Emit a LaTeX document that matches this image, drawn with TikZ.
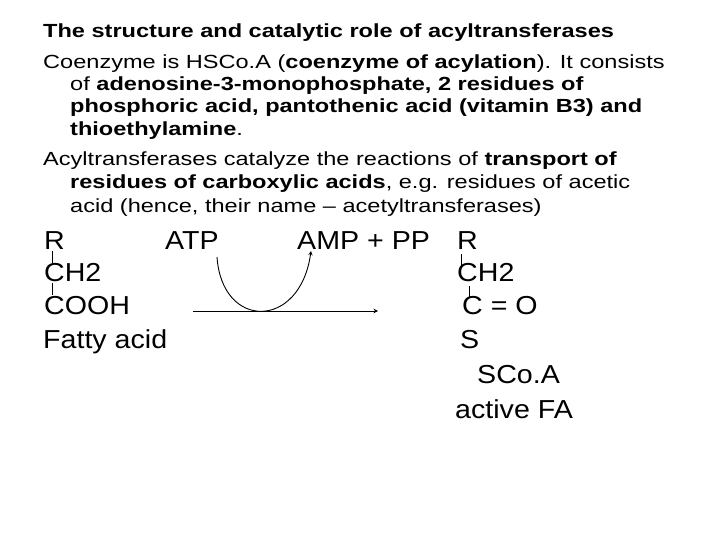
\documentclass[tikz,border=0pt]{standalone}
\usepackage{fontspec}
\usepackage{graphicx}
\setmainfont{Liberation Sans}
\newcommand{\bt}[1]{\scalebox{1.24}[1]{#1}}
\newcommand{\lt}[1]{\scalebox{1.1}[1]{#1}}
\begin{document}
\begin{tikzpicture}[x=1pt,y=-1pt,
  body/.style={anchor=base west,inner sep=0pt,font=\fontsize{19}{22}\selectfont},
  big/.style={anchor=base west,inner sep=0pt,font=\fontsize{26}{28}\selectfont},
  bond/.style={line width=0.8pt},
  arr/.style={line width=1pt,-stealth}]
\useasboundingbox (0,0) rectangle (720,540);
\node[body] (t0) at (43,38) {\bt{\textbf{The structure and catalytic role of acyltransferases}}};
\node[body] (t1) at (43,69) {\bt{Coenzyme is HSCo.A (\textbf{coenzyme of acylation}). It consists}};
\node[body] (t2) at (70,91) {\bt{of \textbf{adenosine-3-monophosphate, 2 residues of}}};
\node[body] (t3) at (70,113) {\bt{\textbf{phosphoric acid, pantothenic acid (vitamin B3) and}}};
\node[body] (t4) at (70,136) {\bt{\textbf{thioethylamine}.}};
\node[body] (t5) at (43,166) {\bt{Acyltransferases catalyze the reactions of \textbf{transport of}}};
\node[body] (t6) at (70,189) {\bt{\textbf{residues of carboxylic acids}, e.g. residues of acetic}};
\node[body] (t7) at (70,212) {\bt{acid (hence, their name -- acetyltransferases)}};
\node[big] (r1) at (44,249) {\lt{R}};
\node[big] (c1) at (44,281) {\lt{CH2}};
\node[big] (o1) at (44,314) {\lt{COOH}};
\node[big] (f1) at (43,348) {\lt{Fatty acid}};
\node[big] (atp) at (165,249) {\lt{ATP}};
\node[big] (amp) at (297,249) {\lt{AMP + PP}};
\node[big] (r2) at (457,249) {\lt{R}};
\node[big] (c2) at (457,281) {\lt{CH2}};
\node[big] (co) at (462,314) {\lt{C = O}};
\node[big] (s) at (460,348) {\lt{S}};
\node[big] (sc) at (477,383) {\lt{SCo.A}};
\node[big] (fa) at (455,418) {\lt{active FA}};
\draw[bond] (r1.south west)++(8,2) -- ++(0,12);
\draw[bond] (c1.south west)++(8,2) -- ++(0,12);
\draw[bond] (r2.south west)++(4,5) -- ++(0,12);
\draw[bond] (c2.south west)++(12,5) -- ++(0,12);
\coordinate (a0) at (193,311);
\coordinate (a1) at (378,311);
\draw[arr] (a0) -- (a1);
\coordinate (b0) at (217,257);
\coordinate (b1) at (311,251);
\draw[line width=0.9pt,-stealth] (b0) .. controls (222,330) and (300,330) .. (b1);
\end{tikzpicture}
\end{document}
